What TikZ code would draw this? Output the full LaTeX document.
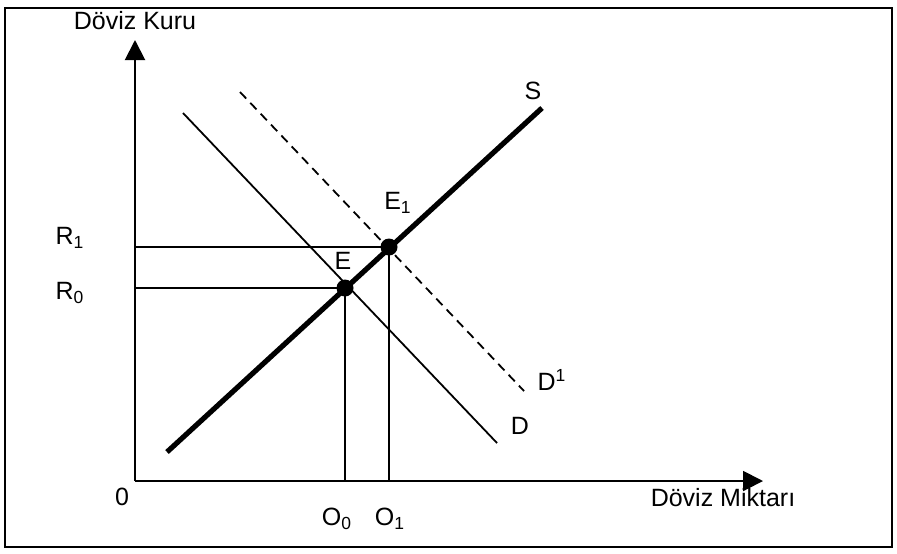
\documentclass[tikz,border=0pt]{standalone}
\usepackage{fontspec}
\setmainfont{Liberation Sans}
\usetikzlibrary{arrows.meta}
\tikzset{
  frame/.style={line width=1pt},
  axis/.style={line width=1pt,-{Triangle[width=10pt,length=10pt]}},
  supply/.style={line width=2.6pt},
  demand/.style={line width=0.9pt},
  shifted/.style={line width=0.9pt,dash pattern=on 4.5pt off 3pt},
  guide/.style={line width=0.8pt},
  dot/.style={circle,fill=black,inner sep=0pt,minimum size=8.5pt},
  lbl/.style={inner sep=0pt,font=\fontsize{12.5}{14}\selectfont}
}
\begin{document}
\begin{tikzpicture}[x=0.5pt,y=-0.5pt]
\useasboundingbox (0,0) rectangle (897,553);
\draw[frame] (5,8) rectangle (892,547);
% axes
\coordinate (O) at (135,481);
\coordinate (Ytip) at (135,40);
\coordinate (Xtip) at (763,481);
\draw[axis] (O) -- (Ytip);
\draw[axis] (O) -- (Xtip);
% curves
\coordinate (Ss) at (167,452);
\coordinate (Se) at (542,108);
\coordinate (Ds) at (183,113);
\coordinate (De) at (497,443);
\coordinate (D1s) at (240,92);
\coordinate (D1e) at (524,391);
\coordinate (R0) at (135,288);
\coordinate (R1) at (135,247);
\coordinate (Q0) at (345,481);
\coordinate (Q1) at (389,481);
\coordinate (Ec) at (345,288);
\coordinate (E1c) at (389,247);
\draw[guide] (R1) -- (E1c) -- (Q1);
\draw[guide] (R0) -- (Ec) -- (Q0);
\draw[demand] (Ds) -- (De);
\draw[shifted] (D1s) -- (D1e);
\draw[supply] (Ss) -- (Se);
\node[dot] (E) at (Ec) {};
\node[dot] (E1) at (E1c) {};
% labels
\node[lbl] (ylab) at (135,21) {Döviz Kuru};
\node[lbl] (xlab) at (723,498) {Döviz Miktarı};
\node[lbl] (zero) at (122,497) {0};
\node[lbl] (r1) at (70,238) {R\textsubscript{1}};
\node[lbl] (r0) at (70,293) {R\textsubscript{0}};
\node[lbl] (o0) at (337,519) {O\textsubscript{0}};
\node[lbl] (o1) at (390,519) {O\textsubscript{1}};
\node[lbl] (elab) at (343,261) {E};
\node[lbl] (e1lab) at (398,203) {E\textsubscript{1}};
\node[lbl] (slab) at (533,91) {S};
\node[lbl] (d1lab) at (552,380) {D\textsuperscript{1}};
\node[lbl] (dlab) at (520,426) {D};
\end{tikzpicture}
\end{document}
